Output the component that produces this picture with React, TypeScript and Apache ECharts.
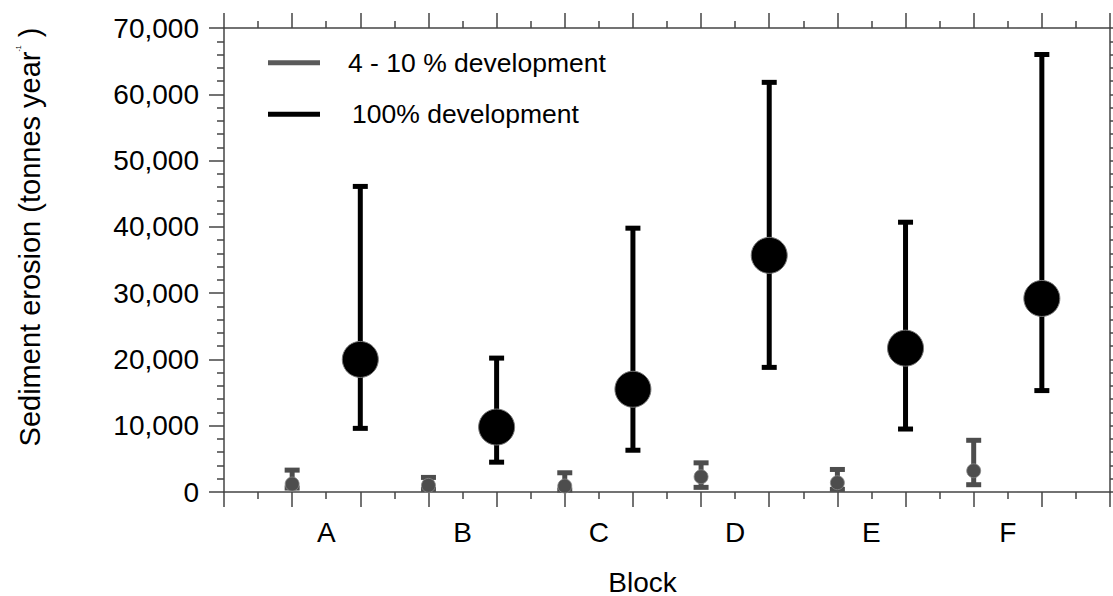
import React, { useEffect, useRef } from "react";
import * as echarts from "echarts";

const categories = ["A", "B", "C", "D", "E", "F"];
const lowMean = [1200, 1000, 900, 2300, 1400, 3200];
const lowMin = [600, 400, 300, 700, 400, 1100];
const lowMax = [3300, 2200, 2900, 4400, 3400, 7800];
const fullMean = [20000, 9800, 15500, 35700, 21700, 29200];
const fullMin = [9600, 4500, 6300, 18800, 9500, 15300];
const fullMax = [46100, 20200, 39800, 61800, 40700, 66000];
const seriesNames = ["4 - 10 % development", "100% development"];
const yMin = 0;
const yMax = 70000;
const yStep = 10000;

const FONT = "'Liberation Sans', Arial, sans-serif";
const GRAY = "#4d4d4d";
const AXIS = "#444";

export default function App() {
  const ref = useRef<HTMLDivElement>(null);
  useEffect(() => {
    if (!ref.current) return;
    const chart = echarts.init(ref.current, null, { renderer: "svg" });
    const xCount = categories.length * 2 + 1;

    const lowPts = categories.map((_, i) => [2 * i + 1, lowMean[i]]);
    const fullPts = categories.map((_, i) => [2 * i + 2, fullMean[i]]);
    const lowErr = categories.map((_, i) => [2 * i + 1, lowMin[i], lowMax[i]]);
    const fullErr = categories.map((_, i) => [2 * i + 2, fullMin[i], fullMax[i]]);

    const errRender = (color: string) => (params: any, api: any) => {
      const x = api.value(0);
      const lo = api.coord([x, api.value(1)]);
      const hi = api.coord([x, api.value(2)]);
      const h = 7.5;
      const st = { stroke: color, lineWidth: 5 };
      return {
        type: "group",
        children: [
          { type: "line", shape: { x1: lo[0], y1: lo[1], x2: hi[0], y2: hi[1] }, style: st },
          { type: "line", shape: { x1: lo[0] - h, y1: lo[1], x2: lo[0] + h, y2: lo[1] }, style: st },
          { type: "line", shape: { x1: hi[0] - h, y1: hi[1], x2: hi[0] + h, y2: hi[1] }, style: st },
        ],
      };
    };

    const tickAxisX = (position: string) => ({
      type: "value",
      position,
      min: 0,
      max: xCount,
      interval: 1,
      axisLine: { show: true, onZero: false, lineStyle: { color: AXIS, width: 1.5 } },
      axisTick: { show: true, length: 15, lineStyle: { color: AXIS, width: 1.5 } },
      minorTick: { show: true, splitNumber: 2, length: 7, lineStyle: { color: AXIS, width: 1.5 } },
      axisLabel: { show: false },
      splitLine: { show: false },
      minorSplitLine: { show: false },
    });

    const tickAxisY = (position: string, labels: boolean) => ({
      type: "value",
      position,
      min: yMin,
      max: yMax,
      interval: yStep,
      axisLine: { show: true, onZero: false, lineStyle: { color: AXIS, width: 1.5 } },
      axisTick: { show: true, length: 15, lineStyle: { color: AXIS, width: 1.5 } },
      minorTick: { show: true, splitNumber: 5, length: 7, lineStyle: { color: AXIS, width: 1.5 } },
      axisLabel: {
        show: labels,
        margin: 25,
        fontSize: 28,
        fontFamily: FONT,
        color: "#000",
        formatter: (v: number) => v.toLocaleString("en-US"),
      },
      splitLine: { show: false },
      minorSplitLine: { show: false },
    });

    const option: any = {
      animation: false,
      backgroundColor: "#fff",
      grid: { left: 224, right: 2, top: 28, bottom: 104, containLabel: false },
      xAxis: [
        tickAxisX("bottom"),
        {
          type: "value",
          position: "bottom",
          min: 0,
          max: xCount,
          interval: 0.5,
          axisLine: { show: false },
          axisTick: { show: false },
          splitLine: { show: false },
          axisLabel: {
            show: true,
            margin: 26,
            fontSize: 28,
            fontFamily: FONT,
            color: "#000",
            showMinLabel: true,
            showMaxLabel: true,
            formatter: (v: number) => {
              const k = (v - 1.5) / 2;
              if (Number.isInteger(k) && k >= 0 && k < categories.length) return categories[k];
              return "";
            },
          },
        },
        tickAxisX("top"),
      ],
      yAxis: [tickAxisY("left", true), tickAxisY("right", false)],
      graphic: [
        { type: "rect", shape: { x: 268, y: 60.2, width: 52, height: 5 }, style: { fill: "#5a5a5a" } },
        {
          type: "text",
          x: 348,
          y: 62.7,
          style: { text: seriesNames[0], fontSize: 26.5, fontFamily: FONT, fill: "#000", textVerticalAlign: "middle" },
        },
        { type: "rect", shape: { x: 268, y: 111.8, width: 52, height: 5 }, style: { fill: "#000" } },
        {
          type: "text",
          x: 352,
          y: 114.3,
          style: { text: seriesNames[1], fontSize: 26.5, fontFamily: FONT, fill: "#000", textVerticalAlign: "middle" },
        },
        {
          type: "text",
          x: 642.5,
          y: 582,
          style: { text: "Block", fontSize: 28, fontFamily: FONT, fill: "#000", textAlign: "center", textVerticalAlign: "middle" },
        },
        {
          type: "text",
          x: 30,
          y: 237,
          rotation: Math.PI / 2,
          style: {
            text: "Sediment erosion (tonnes year{s|-1} )",
            fontSize: 29,
            fontFamily: FONT,
            fill: "#000",
            textAlign: "center",
            textVerticalAlign: "middle",
            rich: {
              s: { fontSize: 7, fontFamily: FONT, fill: "#000", verticalAlign: "top", lineHeight: 30 },
            },
          },
        },
      ],
      series: [
        {
          name: seriesNames[0] + " range",
          type: "custom",
          xAxisIndex: 0,
          yAxisIndex: 0,
          renderItem: errRender(GRAY),
          encode: { x: 0, y: [1, 2] },
          data: lowErr,
          z: 2,
        },
        {
          name: seriesNames[1] + " range",
          type: "custom",
          xAxisIndex: 0,
          yAxisIndex: 0,
          renderItem: errRender("#000"),
          encode: { x: 0, y: [1, 2] },
          data: fullErr,
          z: 2,
        },
        {
          name: seriesNames[0],
          type: "scatter",
          xAxisIndex: 0,
          yAxisIndex: 0,
          symbol: "circle",
          symbolSize: 14,
          itemStyle: { color: GRAY, opacity: 1, borderColor: "#888", borderWidth: 0.8 },
          data: lowPts,
          z: 3,
        },
        {
          name: seriesNames[1],
          type: "scatter",
          xAxisIndex: 0,
          yAxisIndex: 0,
          symbol: "circle",
          symbolSize: 36,
          itemStyle: { color: "#000", opacity: 1, borderColor: "#777", borderWidth: 1 },
          data: fullPts,
          z: 3,
        },
      ],
    };
    chart.setOption(option);
    return () => chart.dispose();
  }, []);
  return (
    <div
      ref={ref}
      style={{ position: "fixed", left: 0, top: 0, width: 1113, height: 596, background: "#fff" }}
    />
  );
}
